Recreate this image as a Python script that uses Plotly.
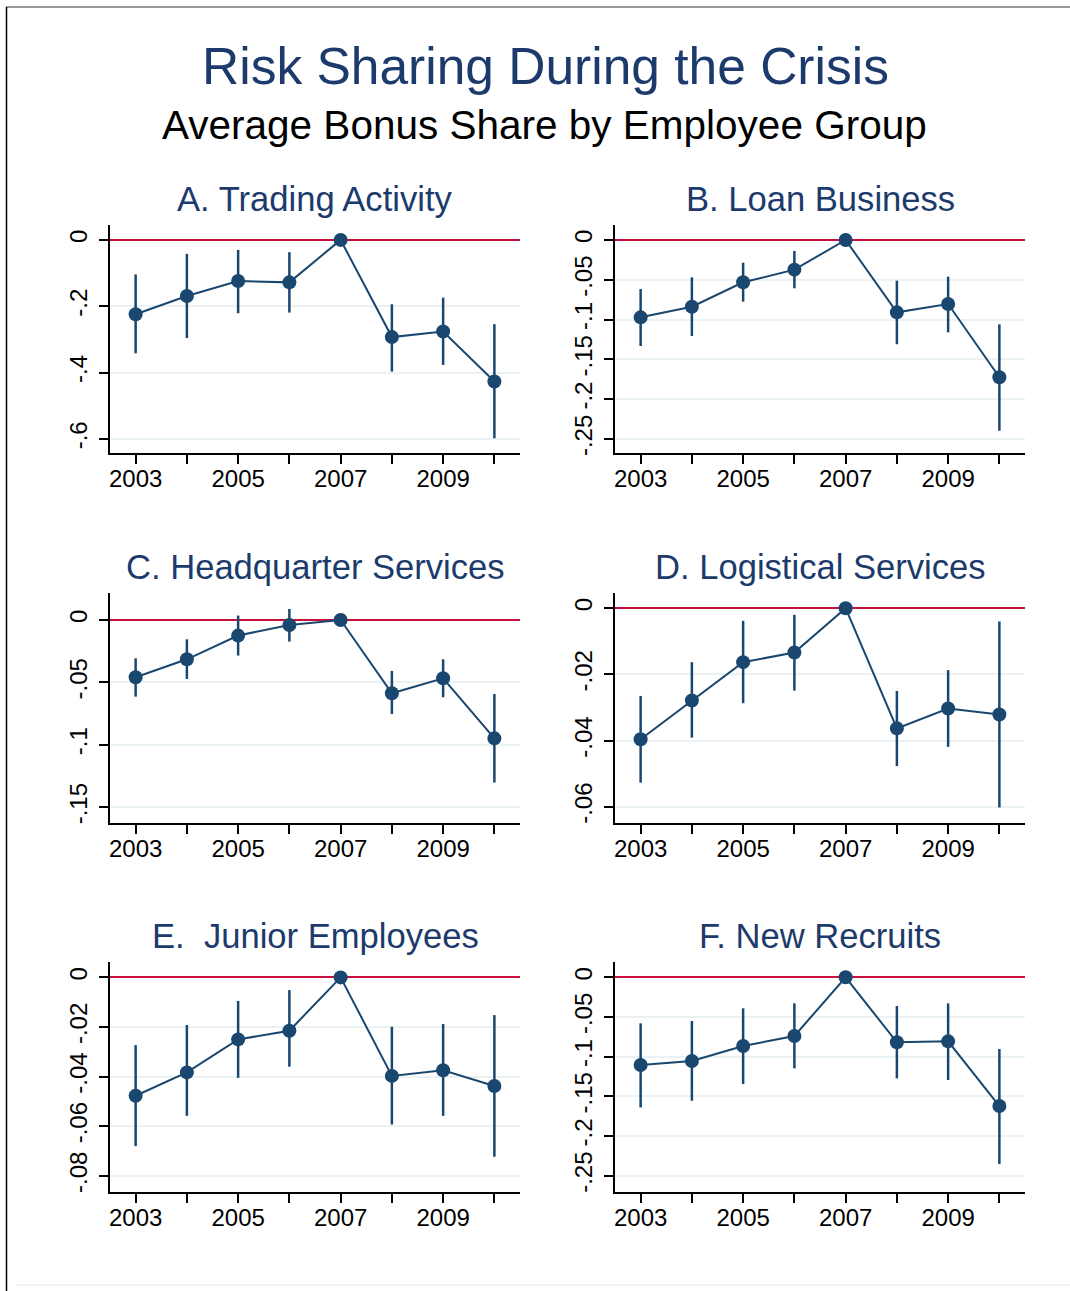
import plotly.graph_objects as go

# ---------------- data ----------------
years = [2003, 2004, 2005, 2006, 2007, 2008, 2009, 2010]
xtick_labels = ["2003", "", "2005", "", "2007", "", "2009", ""]

titles = ["A. Trading Activity", "B. Loan Business", "C. Headquarter Services",
          "D. Logistical Services", "E.&nbsp; Junior Employees", "F. New Recruits"]

A_coef = [-0.224, -0.169, -0.124, -0.128, 0.0, -0.293, -0.276, -0.427]
A_lo = [-0.342, -0.296, -0.221, -0.219, 0.0, -0.397, -0.377, -0.598]
A_hi = [-0.104, -0.042, -0.030, -0.037, 0.0, -0.194, -0.174, -0.254]

B_coef = [-0.0972, -0.0838, -0.0532, -0.0373, 0.0, -0.0909, -0.0804, -0.1725]
B_lo = [-0.1332, -0.1206, -0.0775, -0.0607, 0.0, -0.1310, -0.1160, -0.2396]
B_hi = [-0.0616, -0.0469, -0.0285, -0.0138, 0.0, -0.0511, -0.0461, -0.1060]

C_coef = [-0.0459, -0.0315, -0.0125, -0.0040, 0.0, -0.0587, -0.0467, -0.0948]
C_lo = [-0.0614, -0.0472, -0.0285, -0.0173, 0.0, -0.0753, -0.0619, -0.1302]
C_hi = [-0.0307, -0.0155, 0.0035, 0.0088, 0.0, -0.0408, -0.0315, -0.0593]

D_coef = [-0.0396, -0.0279, -0.0163, -0.0134, 0.0, -0.0363, -0.0303, -0.0321]
D_lo = [-0.0527, -0.0391, -0.0287, -0.0249, 0.0, -0.0477, -0.0419, -0.0602]
D_hi = [-0.0265, -0.0163, -0.0038, -0.0020, 0.0, -0.0250, -0.0187, -0.0040]

E_coef = [-0.0477, -0.0383, -0.0250, -0.0215, 0.0, -0.0397, -0.0374, -0.0438]
E_lo = [-0.0680, -0.0558, -0.0405, -0.0360, 0.0, -0.0593, -0.0558, -0.0723]
E_hi = [-0.0273, -0.0192, -0.0095, -0.0051, 0.0, -0.0199, -0.0188, -0.0152]

F_coef = [-0.1105, -0.1054, -0.0865, -0.0739, 0.0, -0.0819, -0.0807, -0.1622]
F_lo = [-0.1639, -0.1555, -0.1345, -0.1147, 0.0, -0.1273, -0.1294, -0.2353]
F_hi = [-0.0580, -0.0550, -0.0391, -0.0328, 0.0, -0.0361, -0.0328, -0.0903]

A_ticks = [0, -0.2, -0.4, -0.6]
B_ticks = [0, -0.05, -0.1, -0.15, -0.2, -0.25]
C_ticks = [0, -0.05, -0.1, -0.15]
D_ticks = [0, -0.02, -0.04, -0.06]
E_ticks = [0, -0.02, -0.04, -0.06, -0.08]
F_ticks = [0, -0.05, -0.1, -0.15, -0.2, -0.25]

# ---------------- layout constants ----------------
W, H = 1070, 1291
NAVY = "#1a476f"
TITLE_C = "#1c3b6c"
RED = "#c8103c"
GRID = "#eaf2f3"
FONT = "Liberation Sans, Arial, sans-serif"

# panel pixel boxes (x0, x1, ytop, ybottom) and y-ranges
boxes = [(110, 520, 225, 453), (615, 1025, 225, 453),
         (110, 520, 593, 823), (615, 1025, 593, 823),
         (110, 520, 962, 1192), (615, 1025, 962, 1192)]
yranges = [(-0.6425, 0.045), (-0.2676, 0.0188), (-0.1626, 0.0216),
           (-0.0649, 0.0046), (-0.0865, 0.0062), (-0.2705, 0.0193)]
title_y = [199, 199, 567, 567, 936, 936]

panels = [(A_coef, A_lo, A_hi, A_ticks), (B_coef, B_lo, B_hi, B_ticks),
          (C_coef, C_lo, C_hi, C_ticks), (D_coef, D_lo, D_hi, D_ticks),
          (E_coef, E_lo, E_hi, E_ticks), (F_coef, F_lo, F_hi, F_ticks)]


def stata_lbl(v):
    if v == 0:
        return "0"
    s = f"{v:g}"
    return s.replace("0.", ".")


def px_x(p):
    return p / W


def px_y(p):
    return 1 - p / H


fig = go.Figure()
layout = dict(width=W, height=H, autosize=False, template="none",
              margin=dict(l=0, r=0, t=0, b=0, pad=0),
              paper_bgcolor="white", plot_bgcolor="white",
              showlegend=False, font=dict(family=FONT, color="black"))
annotations = []

for i, ((coef, lo, hi, ticks), (x0, x1, yt, yb), yr) in enumerate(zip(panels, boxes, yranges)):
    n = i + 1
    xa = "x" if n == 1 else f"x{n}"
    ya = "y" if n == 1 else f"y{n}"
    err_up = [h - c for h, c in zip(hi, coef)]
    err_dn = [c - l for c, l in zip(coef, lo)]
    fig.add_trace(go.Scatter(
        x=years, y=coef, xaxis=xa, yaxis=ya, mode="lines+markers",
        line=dict(color=NAVY, width=2),
        marker=dict(color=NAVY, size=14),
        error_y=dict(type="data", symmetric=False, array=err_up, arrayminus=err_dn,
                     thickness=2.5, width=0, color=NAVY),
        hoverinfo="skip"))
    layout["xaxis" if n == 1 else f"xaxis{n}"] = dict(
        domain=[px_x(x0), px_x(x1)], anchor=ya, range=[2002.5, 2010.5],
        tickvals=years, ticktext=xtick_labels, ticks="outside", ticklen=9,
        tickwidth=1.5, tickcolor="black", showline=True, linecolor="black",
        linewidth=1.5, showgrid=False, zeroline=False, automargin=False,
        ticklabelstandoff=-6,
        tickfont=dict(family=FONT, size=24, color="black"))
    layout["yaxis" if n == 1 else f"yaxis{n}"] = dict(
        domain=[px_y(yb), px_y(yt)], anchor=xa, range=list(yr),
        tickvals=ticks, ticktext=[stata_lbl(v) for v in ticks], tickangle=-90,
        ticks="outside", ticklen=9, tickwidth=1.5, tickcolor="black",
        showline=True, linecolor="black", linewidth=1.5,
        showgrid=True, gridcolor=GRID, gridwidth=1.5,
        zeroline=True, zerolinecolor=RED, zerolinewidth=2, automargin=False,
        ticklabelstandoff=3,
        tickfont=dict(family=FONT, size=24, color="black"))
    annotations.append(dict(text=titles[i], x=px_x((x0 + x1) / 2), y=px_y(title_y[i]),
                            xref="paper", yref="paper", showarrow=False,
                            xanchor="center", yanchor="middle",
                            font=dict(family=FONT, size=34.6, color=TITLE_C)))

annotations.append(dict(text="Risk Sharing During the Crisis", x=px_x(545), y=px_y(66),
                        xref="paper", yref="paper", showarrow=False,
                        xanchor="center", yanchor="middle",
                        font=dict(family=FONT, size=51.5, color=TITLE_C)))
annotations.append(dict(text="Average Bonus Share by Employee Group", x=px_x(544), y=px_y(125),
                        xref="paper", yref="paper", showarrow=False,
                        xanchor="center", yanchor="middle",
                        font=dict(family=FONT, size=40.5, color="black")))

shapes = [
    dict(type="line", xref="paper", yref="paper", x0=px_x(6), x1=px_x(1070),
         y0=px_y(7), y1=px_y(7), line=dict(color="#777777", width=1.5)),
    dict(type="line", xref="paper", yref="paper", x0=px_x(6.5), x1=px_x(6.5),
         y0=px_y(7), y1=px_y(1291), line=dict(color="black", width=1.5)),
    dict(type="line", xref="paper", yref="paper", x0=px_x(15), x1=px_x(1070),
         y0=px_y(1285), y1=px_y(1285), line=dict(color=GRID, width=1.5)),
]

layout["annotations"] = annotations
layout["shapes"] = shapes
fig.update_layout(**layout)
fig.write_html("out.html", config={"displayModeBar": False},
               post_script="document.body.style.margin='0';document.body.style.overflow='hidden';")
